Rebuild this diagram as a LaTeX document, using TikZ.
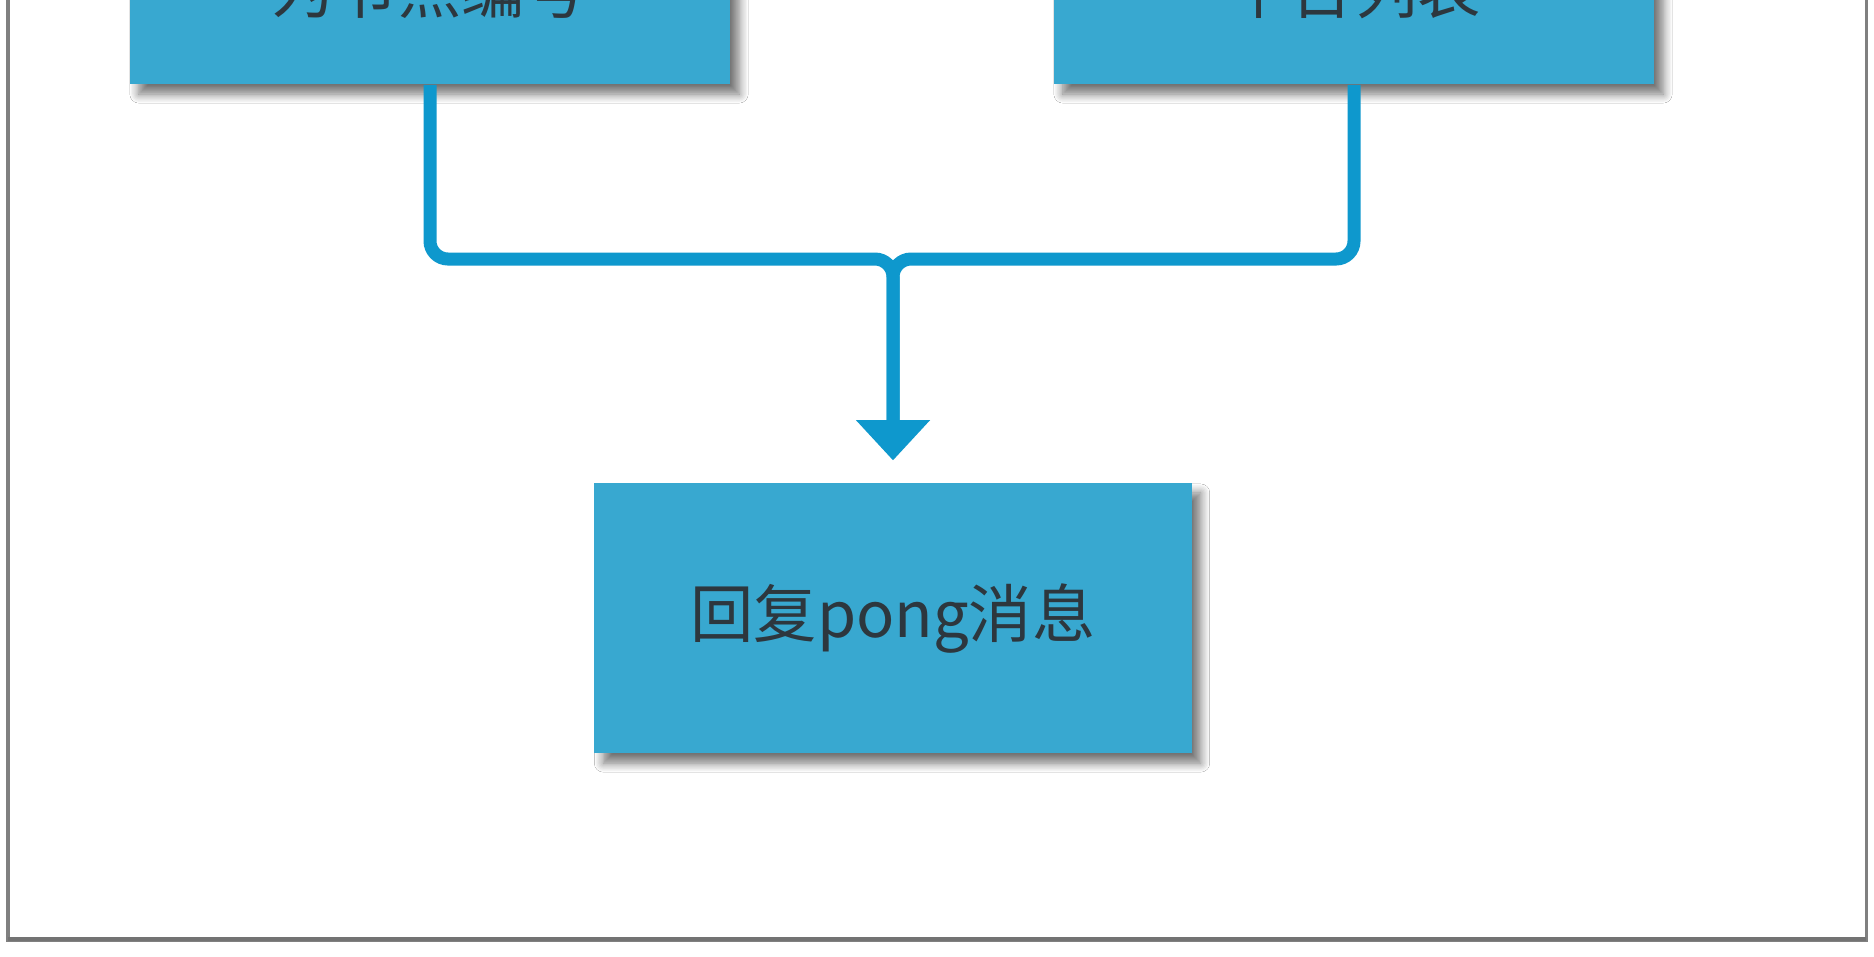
\documentclass[tikz,border=0pt]{standalone}
\usepackage{fontspec}
\usepackage{tikz}
\usetikzlibrary{arrows.meta,shadows.blur,calc}
\newfontfamily\cjk{Noto Sans CJK SC}
\definecolor{boxblue}{RGB}{56,168,208}
\definecolor{lineblue}{RGB}{14,152,205}
\definecolor{txtgray}{RGB}{45,55,62}
\tikzstyle{stepbox} = [rectangle, minimum width=6cm, minimum height=1.9cm, inner sep=0pt, text centered, fill=boxblue, text=txtgray, font=\cjk\fontsize{18pt}{20pt}\selectfont, blur shadow={shadow xshift=0.09cm, shadow yshift=-0.1cm, shadow blur radius=0.09cm, shadow blur steps=8, shadow opacity=55}]
\tikzstyle{link} = [line width=0.13cm, draw=lineblue, rounded corners=0.18cm, shorten >=0.22cm]
\tikzstyle{frame} = [draw=black!50, line width=0.03cm]

\begin{document}
\begin{tikzpicture}[x=0.01cm, y=-0.01cm]
    \useasboundingbox (0,0) rectangle (1874,956);
    \clip (0,0) rectangle (1874,956);
    \fill[white] (0,0) rectangle (1874,956);
    \draw[frame] (8,-20) rectangle (1866,940);
    \draw[black!55, line width=0.04cm] (8,939) -- (1866,939);
    \node (a)[stepbox] at (430,-11) {为节点编号};
    \node (b)[stepbox] at (1354,-11) {平台列表};
    \node (p)[stepbox, minimum width=5.97cm, minimum height=2.7cm] at (893,618) {回复pong消息};
    \coordinate (j) at (893,259);
    \draw[link, shorten >=0.5cm] (a.south) -- (a.south |- j) -- (j) -- (p.north);
    \draw[link, -{Triangle[width=0.74cm, length=0.40cm, line width=0pt]}] (b.south) -- (b.south |- j) -- (j) -- (p.north);
  \end{tikzpicture}
\end{document}
